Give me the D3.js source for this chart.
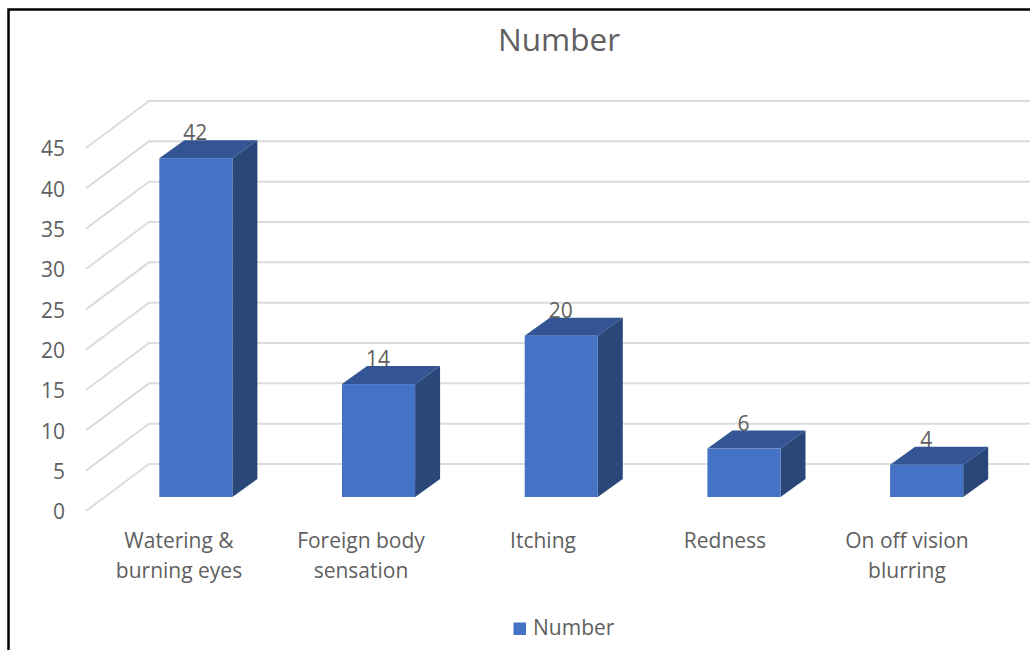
<!DOCTYPE html>
<html>
<head>
<meta charset="utf-8">
<script src="https://cdn.jsdelivr.net/npm/d3@7"></script>
<style>
  html, body { margin: 0; padding: 0; background: #fff; }
  text { font-family: "Open Sans", sans-serif; fill: #5f5f5f; }
</style>
</head>
<body>
<div id="chart"></div>
<script>
// 数据
const categories = ['Watering & burning eyes', 'Foreign body sensation', 'Itching', 'Redness', 'On off vision blurring'];
const categoryLines = [['Watering &', 'burning eyes'], ['Foreign body', 'sensation'], ['Itching'], ['Redness'], ['On off vision', 'blurring']];
const values = [42, 14, 20, 6, 4];
const yTicks = [0, 5, 10, 15, 20, 25, 30, 35, 40, 45];
const seriesName = 'Number';

const width = 1030;
const height = 650;

// 3D 偏移
const depthX = 25, depthY = -18;   // 柱子厚度
const wallDX = 63, wallDY = -47;   // 地板左前角到后墙
const frontLeft = 86, frontFloor = 511;

const svg = d3.select('#chart').append('svg')
    .attr('width', width)
    .attr('height', height)
    .style('display', 'block');

// 外框
svg.append('path')
    .attr('d', `M8.5,${height} V9.5 H${width}`)
    .attr('fill', 'none')
    .attr('stroke', '#000')
    .attr('stroke-width', 2.5);

// 比例尺
const x = d3.scaleBand().domain(categories).range([104.5, 1018]).paddingInner(0.6).paddingOuter(0.3);
const y = d3.scaleLinear().domain([0, 45]).range([497, 134]);
const yFront = d3.scaleLinear().domain([0, 45]).range([frontFloor, frontFloor - 363]);
const xLabel = d3.scalePoint().domain(categories).range([179, 907]);

// 网格线
const grid = svg.append('g').attr('fill', 'none').attr('stroke', '#dcdcdc').attr('stroke-width', 2);
grid.selectAll('path')
    .data(yTicks)
    .enter()
    .append('path')
    .attr('d', d => `M${frontLeft},${yFront(d)} L${frontLeft + wallDX},${yFront(d) + wallDY} H${width}`);

// y 轴
const yAxis = svg.append('g')
    .attr('transform', 'translate(70,15)')
    .call(d3.axisLeft(y).tickValues(yTicks).tickSize(0).tickPadding(5));
yAxis.select('.domain').remove();
yAxis.selectAll('text').attr('font-size', 21).style('font-family', '"Open Sans", sans-serif').style('fill', '#5f5f5f');

// 柱子
const bars = svg.append('g').selectAll('g')
    .data(categories.map((c, i) => ({ c, v: values[i] })))
    .enter()
    .append('g');

bars.append('path') // 顶面
    .attr('fill', '#335593')
    .attr('d', d => {
        const l = x(d.c), r = l + x.bandwidth(), t = y(d.v);
        return `M${l},${t} L${l + depthX},${t + depthY} H${r + depthX} L${r},${t} Z`;
    });

bars.append('path') // 侧面
    .attr('fill', '#2a4779')
    .attr('d', d => {
        const r = x(d.c) + x.bandwidth(), t = y(d.v), b = y(0);
        return `M${r},${t} L${r + depthX},${t + depthY} V${b + depthY} L${r},${b} Z`;
    });

bars.append('rect') // 正面
    .attr('fill', '#4472c4')
    .attr('x', d => x(d.c))
    .attr('y', d => y(d.v))
    .attr('width', x.bandwidth())
    .attr('height', d => y(0) - y(d.v));

// 数值标签
bars.append('text')
    .attr('x', d => x(d.c) + x.bandwidth() / 2 - 0.5)
    .attr('y', d => y(d.v) - 18)
    .attr('text-anchor', 'middle')
    .attr('font-size', 21)
    .text(d => d.v);

// x 轴标签
const catLabel = svg.append('g').selectAll('text')
    .data(categories)
    .enter()
    .append('text')
    .attr('text-anchor', 'middle')
    .attr('font-size', 21);
catLabel.selectAll('tspan')
    .data((d, i) => categoryLines[i])
    .enter()
    .append('tspan')
    .attr('x', function () { return xLabel(d3.select(this.parentNode).datum()); })
    .attr('y', (d, i) => 548 + i * 30)
    .text(d => d);

// 标题
svg.append('text')
    .attr('x', 559)
    .attr('y', 51)
    .attr('text-anchor', 'middle')
    .attr('font-size', 31.5)
    .text(seriesName);

// 图例
svg.append('rect')
    .attr('x', 513.5).attr('y', 622.5)
    .attr('width', 12.5).attr('height', 12.5)
    .attr('fill', '#4472c4');
svg.append('text')
    .attr('x', 533)
    .attr('y', 635)
    .attr('font-size', 21)
    .text(seriesName);
</script>
</body>
</html>
